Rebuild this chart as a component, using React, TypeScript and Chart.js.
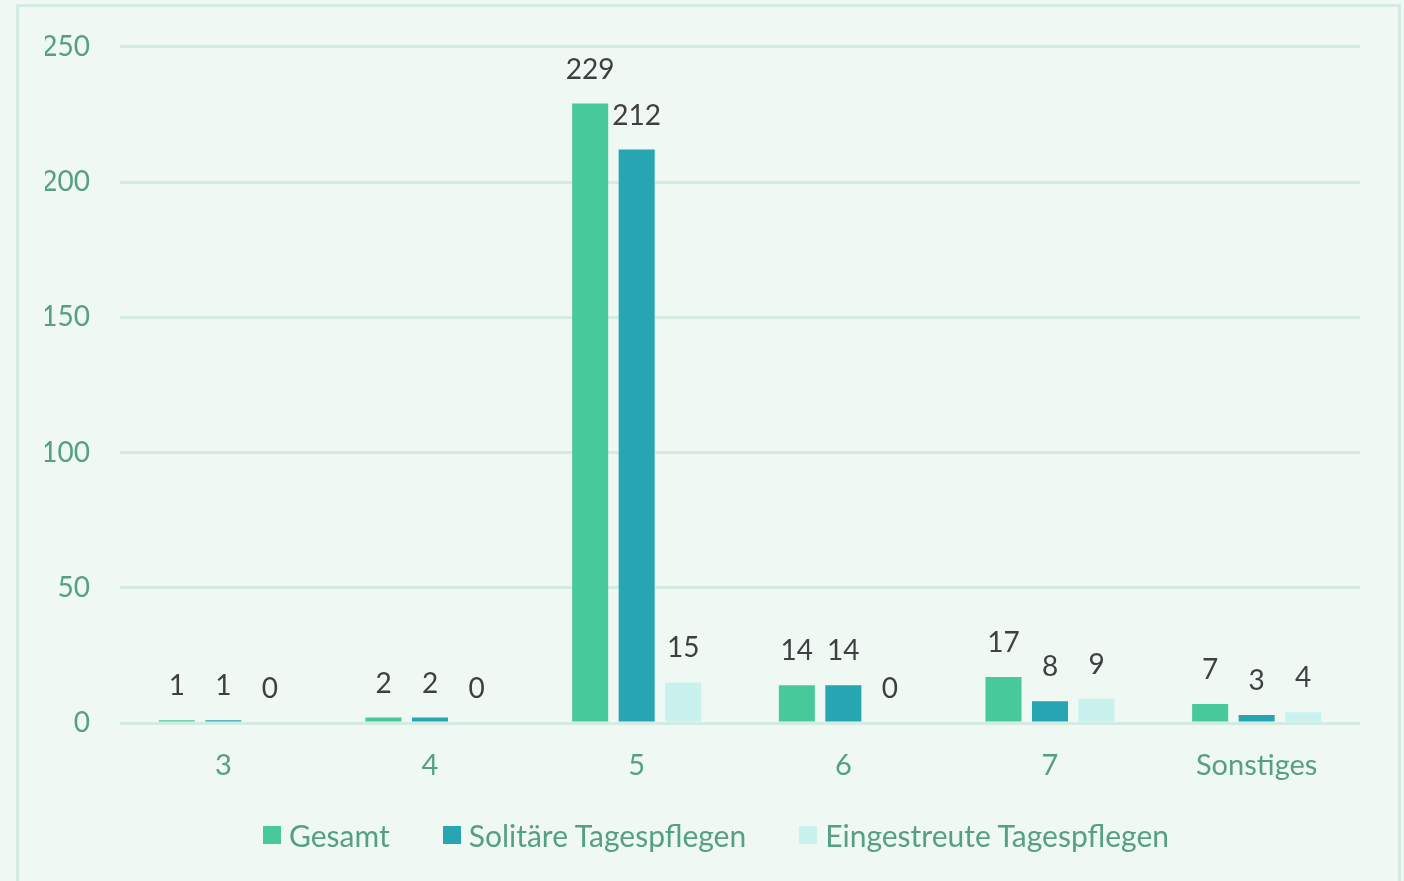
import React, { useEffect, useRef } from "react";
import { Chart, registerables } from "chart.js";

Chart.register(...registerables);

const categories = ["3", "4", "5", "6", "7", "Sonstiges"];
const gesamt = [1, 2, 229, 14, 17, 7];
const solitaere = [1, 2, 212, 14, 8, 3];
const eingestreute = [0, 0, 15, 0, 9, 4];
const seriesNames = ["Gesamt", "Solitäre Tagespflegen", "Eingestreute Tagespflegen"];
const seriesColors = ["#48c99b", "#27a5b3", "#c9f2ee"];

const FONT = "Lato, 'Open Sans', sans-serif";
const GREEN_TEXT = "#55a084";
const GRID = "#d3ebe2";
const BG = "#eff8f3";

const valueLabels = {
  id: "valueLabels",
  afterDatasetsDraw(chart: any) {
    const ctx = chart.ctx;
    ctx.save();
    ctx.font = `28px ${FONT}`;
    ctx.fillStyle = "#3f3f3f";
    ctx.textAlign = "center";
    ctx.textBaseline = "middle";
    chart.data.datasets.forEach((ds: any, i: number) => {
      const meta = chart.getDatasetMeta(i);
      meta.data.forEach((el: any, j: number) => {
        ctx.fillText(String(ds.data[j]), el.x, el.y - 34);
      });
    });
    ctx.restore();
  },
};

export default function App() {
  const ref = useRef<HTMLCanvasElement>(null);
  useEffect(() => {
    if (!ref.current) return;
    const chart = new Chart(ref.current, {
      type: "bar",
      data: {
        labels: categories,
        datasets: [gesamt, solitaere, eingestreute].map((d, i) => ({
          label: seriesNames[i],
          data: d,
          backgroundColor: seriesColors[i],
          borderWidth: 0,
          categoryPercentage: 0.675,
          barPercentage: 0.775,
        })),
      },
      options: {
        responsive: false,
        animation: false,
        layout: { padding: { left: 45, right: 44, top: 45, bottom: 93 } },
        plugins: {
          tooltip: { enabled: false },
          legend: { display: false },
        },
        scales: {
          x: {
            grid: { display: false, drawTicks: false },
            border: { display: false },
            ticks: { color: GREEN_TEXT, font: { family: FONT, size: 29 }, padding: 25 },
            afterFit: (s: any) => { s.height = 65; },
          },
          y: {
            min: 0,
            max: 250,
            ticks: { stepSize: 50, color: GREEN_TEXT, font: { family: FONT, size: 28 }, padding: 30 },
            grid: { color: GRID, lineWidth: 3, drawTicks: false },
            border: { display: false },
            afterFit: (s: any) => { s.width = 75; },
          },
        },
      },
      plugins: [valueLabels],
    });
    return () => chart.destroy();
  }, []);
  return (
    <div style={{ position: "fixed", left: 0, top: 0, width: 1404, height: 881, background: BG, overflow: "hidden" }}>
      <div style={{ position: "absolute", left: 16, top: 4, width: 1385, height: 900, border: `3px solid ${GRID}`, boxSizing: "border-box" }} />
      <canvas ref={ref} width={1404} height={881} style={{ position: "absolute", left: 0, top: 0 }} />
      <div
        style={{
          position: "absolute",
          left: 263,
          top: 815,
          height: 40,
          display: "flex",
          alignItems: "center",
          gap: 53,
          fontFamily: FONT,
          fontSize: 30,
          color: GREEN_TEXT,
          whiteSpace: "nowrap",
        }}
      >
        {seriesNames.map((n, i) => (
          <div key={n} style={{ display: "flex", alignItems: "center" }}>
            <span style={{ display: "inline-block", width: 18, height: 18, background: seriesColors[i], marginRight: 8 }} />
            <span>{n}</span>
          </div>
        ))}
      </div>
    </div>
  );
}
